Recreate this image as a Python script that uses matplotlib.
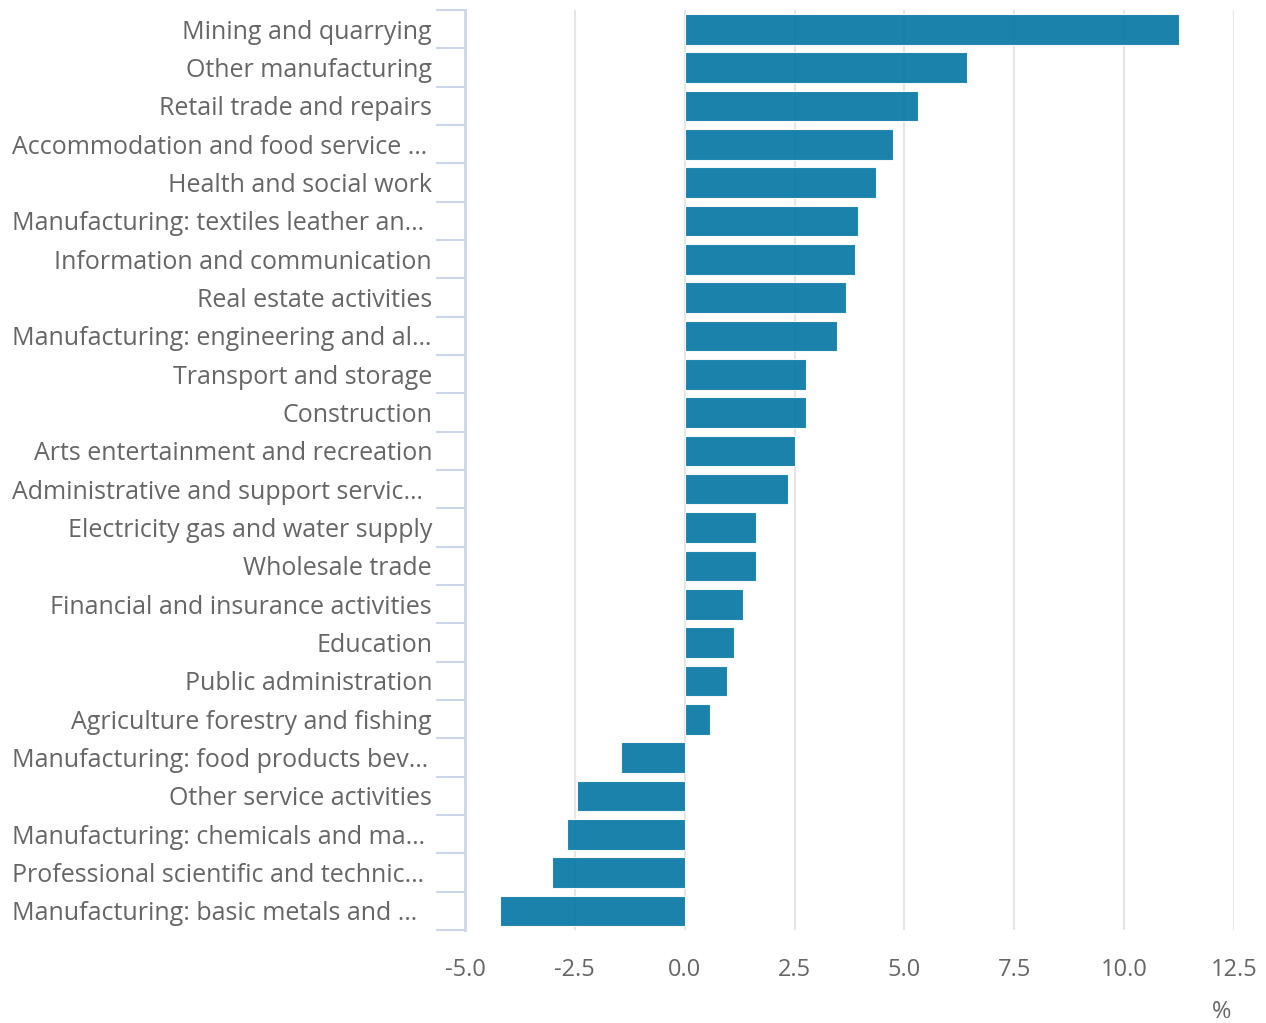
import matplotlib
matplotlib.use("Agg")
import matplotlib.pyplot as plt
import numpy as np

plt.rcParams['font.family'] = ['Open Sans', 'DejaVu Sans']

# industries, top to bottom as shown
labels = [
    "Mining and quarrying",
    "Other manufacturing",
    "Retail trade and repairs",
    "Accommodation and food service …",
    "Health and social work",
    "Manufacturing: textiles leather an…",
    "Information and communication",
    "Real estate activities",
    "Manufacturing: engineering and al…",
    "Transport and storage",
    "Construction",
    "Arts entertainment and recreation",
    "Administrative and support servic…",
    "Electricity gas and water supply",
    "Wholesale trade",
    "Financial and insurance activities",
    "Education",
    "Public administration",
    "Agriculture forestry and fishing",
    "Manufacturing: food products bev…",
    "Other service activities",
    "Manufacturing: chemicals and ma…",
    "Professional scientific and technic…",
    "Manufacturing: basic metals and …",
]
values = [11.25, 6.43, 5.31, 4.74, 4.36, 3.95, 3.88, 3.67, 3.47, 2.76, 2.76,
          2.51, 2.35, 1.62, 1.62, 1.32, 1.12, 0.96, 0.57, -1.44, -2.46, -2.67,
          -3.03, -4.2]
xticks = [-5.0, -2.5, 0.0, 2.5, 5.0, 7.5, 10.0, 12.5]

W, H = 1266, 1023
fig = plt.figure(figsize=(W / 100, H / 100), dpi=100)
ax = fig.add_axes([465 / W, 1 - 930 / H, (1234 - 465) / W, 920 / H])

n = len(labels)
y = np.arange(n)
ax.barh(y, values, height=0.8, color='#0275a2', alpha=0.9,
        edgecolor='white', linewidth=0.8, zorder=3)

ax.set_xlim(-5, 12.5)
ax.set_ylim(n - 0.5, -0.5)
ax.set_xticks(xticks)
ax.set_xticklabels(['%.1f' % t for t in xticks])
ax.tick_params(axis='x', length=0, pad=20, labelsize=17, labelcolor='#666666')
for t in xticks[1:]:
    ax.axvline(t, color='#e6e6e6', lw=1.5, zorder=1)

# category separators on the left axis
ax.set_yticks(np.arange(-0.5, n, 1.0))
ax.set_yticklabels([])
ax.tick_params(axis='y', length=21, width=1.5, color='#ccd6eb', direction='out')

for s in ['top', 'right', 'bottom']:
    ax.spines[s].set_visible(False)
ax.spines['left'].set_color('#ccd6eb')
ax.spines['left'].set_linewidth(2)

# category labels
for i, lab in enumerate(labels):
    yy = 1 - (10 + 920 * (i + 0.5) / n + 3) / H
    if lab.endswith('…'):
        fig.text(12 / W, yy, lab, ha='left', va='center', fontsize=18, color='#666666')
    else:
        fig.text(432 / W, yy, lab, ha='right', va='center', fontsize=18, color='#666666')

fig.text(1222 / W, 1 - 1012 / H, '%', ha='center', va='center', fontsize=17, color='#666666')

fig.savefig('out.png', dpi=100, facecolor='white')
